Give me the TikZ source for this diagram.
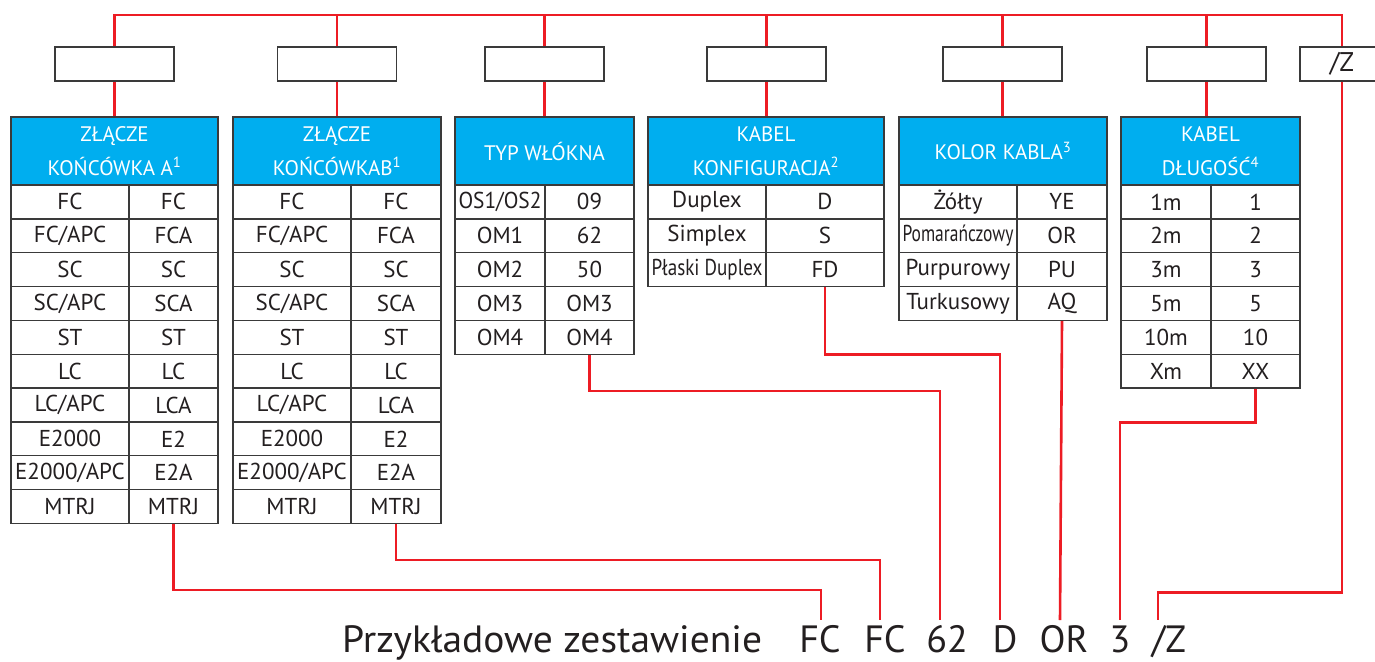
\documentclass[tikz,border=0pt]{standalone}
\usepackage{fontspec}
\setmainfont{PT Sans}
\usepackage{graphicx}
\definecolor{wirered}{HTML}{ED1C24}
\definecolor{headcyan}{HTML}{00AEEF}
\definecolor{gridgray}{HTML}{3A3A3A}
\definecolor{inkc}{HTML}{231F20}
\newsavebox\fitbox
\newlength\fitlen
\newcommand\fitw[2]{\setlength\fitlen{#1pt}\sbox\fitbox{#2}\ifdim\wd\fitbox>\fitlen\resizebox{\fitlen}{\height}{\usebox\fitbox}\else\usebox\fitbox\fi}
\newcommand\cellfont{\fontsize{23}{24}\selectfont}
\newcommand\headfont{\fontsize{21}{34}\selectfont}
\newcommand\bigfont{\fontsize{38}{42}\selectfont}
\tikzset{
  wire/.style={draw=wirered, line width=2.6pt},
  cellbox/.style={draw=gridgray, line width=1.3pt, minimum height=33.85pt, inner sep=0pt, font=\cellfont, text=inkc},
  headbox/.style={draw=gridgray, fill=headcyan, line width=1.3pt, minimum height=68pt, inner sep=0pt, text=white, align=center, font=\headfont},
  codebox/.style={draw=gridgray, line width=1.3pt, minimum width=119pt, minimum height=34pt, inner sep=0pt, text=inkc},
  codetext/.style={anchor=base, text height=27pt, inner xsep=0pt, inner ysep=5pt, outer sep=0pt, font=\bigfont, text=inkc},
}
% #1 name, #2 row, #3 xa, #4 xb, #5 xc, #6 left, #7 right
\newcommand\trow[7]{%
  \node[cellbox, minimum width={(#4-#3)*1pt}] (#1-#2-1) at ({(#3+#4)/2}, {185+(#2-0.5)*33.85}) {\fitw{\fpeval{#4-#3-7}}{#6}};
  \node[cellbox, minimum width={(#5-#4)*1pt}] (#1-#2-2) at ({(#4+#5)/2}, {185+(#2-0.5)*33.85}) {\fitw{\fpeval{#5-#4-7}}{#7}};
}
\begin{document}
\begin{tikzpicture}[x=1pt,y=-1pt]
\useasboundingbox (0,0) rectangle (1375,661);
\fill[white] (0,0) rectangle (1375,661);

% empty code boxes
\node[codebox] (b1) at (114.5,64) {};
\node[codebox] (b2) at (337,64) {};
\node[codebox] (b3) at (544.5,64) {};
\node[codebox] (b4) at (766.5,64) {};
\node[codebox] (b5) at (1002.5,64) {};
\node[codebox] (b6) at (1206.5,64) {};
\node[codebox, minimum width=84pt, font=\fontsize{27}{28}\selectfont] (bz) at (1342,64) {/Z};

% headers
\node[headbox, minimum width=207pt] (h1) at (114.5,151) {ZŁĄCZE\\KOŃCÓWKA A\textsuperscript{1}};
\node[headbox, minimum width=208pt] (h2) at (337,151) {ZŁĄCZE\\KOŃCÓWKAB\textsuperscript{1}};
\node[headbox, minimum width=179pt] (h3) at (544.5,151) {TYP WŁÓKNA};
\node[headbox, minimum width=236pt] (h4) at (766,151) {KABEL\\KONFIGURACJA\textsuperscript{2}};
\node[headbox, minimum width=208pt] (h5) at (1003,151) {KOLOR KABLA\textsuperscript{3}};
\node[headbox, minimum width=179pt] (h6) at (1210.5,151) {KABEL\\DŁUGOŚĆ\textsuperscript{4}};

% table 1
\trow{t1}{1}{11}{129}{218}{FC}{FC}
\trow{t1}{2}{11}{129}{218}{FC/APC}{FCA}
\trow{t1}{3}{11}{129}{218}{SC}{SC}
\trow{t1}{4}{11}{129}{218}{SC/APC}{SCA}
\trow{t1}{5}{11}{129}{218}{ST}{ST}
\trow{t1}{6}{11}{129}{218}{LC}{LC}
\trow{t1}{7}{11}{129}{218}{LC/APC}{LCA}
\trow{t1}{8}{11}{129}{218}{E2000}{E2}
\trow{t1}{9}{11}{129}{218}{E2000/APC}{E2A}
\trow{t1}{10}{11}{129}{218}{MTRJ}{MTRJ}
% table 2
\trow{t2}{1}{233}{351}{441}{FC}{FC}
\trow{t2}{2}{233}{351}{441}{FC/APC}{FCA}
\trow{t2}{3}{233}{351}{441}{SC}{SC}
\trow{t2}{4}{233}{351}{441}{SC/APC}{SCA}
\trow{t2}{5}{233}{351}{441}{ST}{ST}
\trow{t2}{6}{233}{351}{441}{LC}{LC}
\trow{t2}{7}{233}{351}{441}{LC/APC}{LCA}
\trow{t2}{8}{233}{351}{441}{E2000}{E2}
\trow{t2}{9}{233}{351}{441}{E2000/APC}{E2A}
\trow{t2}{10}{233}{351}{441}{MTRJ}{MTRJ}
% table 3
\trow{t3}{1}{455}{545}{634}{OS1/OS2}{09}
\trow{t3}{2}{455}{545}{634}{OM1}{62}
\trow{t3}{3}{455}{545}{634}{OM2}{50}
\trow{t3}{4}{455}{545}{634}{OM3}{OM3}
\trow{t3}{5}{455}{545}{634}{OM4}{OM4}
% table 4
\trow{t4}{1}{648}{766}{884}{Duplex}{D}
\trow{t4}{2}{648}{766}{884}{Simplex}{S}
\trow{t4}{3}{648}{766}{884}{Płaski Duplex}{FD}
% table 5
\trow{t5}{1}{899}{1017}{1107}{Żółty}{YE}
\trow{t5}{2}{899}{1017}{1107}{Pomarańczowy}{OR}
\trow{t5}{3}{899}{1017}{1107}{Purpurowy}{PU}
\trow{t5}{4}{899}{1017}{1107}{Turkusowy}{AQ}
% table 6
\trow{t6}{1}{1121}{1211}{1300}{1m}{1}
\trow{t6}{2}{1121}{1211}{1300}{2m}{2}
\trow{t6}{3}{1121}{1211}{1300}{3m}{3}
\trow{t6}{4}{1121}{1211}{1300}{5m}{5}
\trow{t6}{5}{1121}{1211}{1300}{10m}{10}
\trow{t6}{6}{1121}{1211}{1300}{Xm}{XX}

% example line
\node[anchor=base west, inner sep=0pt, font=\bigfont, text=inkc] (lbl) at (342,652) {\scalebox{1.04}[1]{Przykładowe zestawienie}};
\node[codetext] (c1) at (820,652) {FC};
\node[codetext] (c2) at (885,652) {FC};
\node[codetext] (c3) at (947,652) {62};
\node[codetext] (c4) at (1005,652) {D};
\node[codetext] (c5) at (1064,652) {OR};
\node[codetext] (c6) at (1120,652) {3};
\node[codetext] (c7) at (1169,652) {/Z};

% top wires
\coordinate (topR) at (1342,15);
\draw[wire] (b1.north) -- (b1.north |- topR) -- (topR) -- (bz.north);
\foreach \b in {b2,b3,b4,b5,b6}{\draw[wire] (\b.north) -- (\b.north |- topR);}
\foreach \b/\h in {b1/h1,b2/h2,b3/h3,b4/h4,b5/h5,b6/h6}{\draw[wire] (\b.south) -- (\b.south |- \h.north);}

% bottom wires
\draw[wire] (t1-10-2.south) -- ++(0,66) -| ([xshift=1pt]c1.north);
\draw[wire] (t2-10-2.south) -- ++(0,36) -| ([xshift=-5pt]c2.north);
\draw[wire] (t3-5-2.south) -- ++(0,36) -| ([xshift=-7pt]c3.north);
\draw[wire] (t4-3-2.south) -- ++(0,67.5) -| ([xshift=-5pt]c4.north);
\draw[wire] (t5-4-2.south) -- ([xshift=-4pt]c5.north);
\draw[wire] (t6-6-2.south) -- ++(0,34) -| (c6.north);
\draw[wire] (bz.south) -- ++(0,511) -| ([xshift=-11pt]c7.north);
\end{tikzpicture}
\end{document}
